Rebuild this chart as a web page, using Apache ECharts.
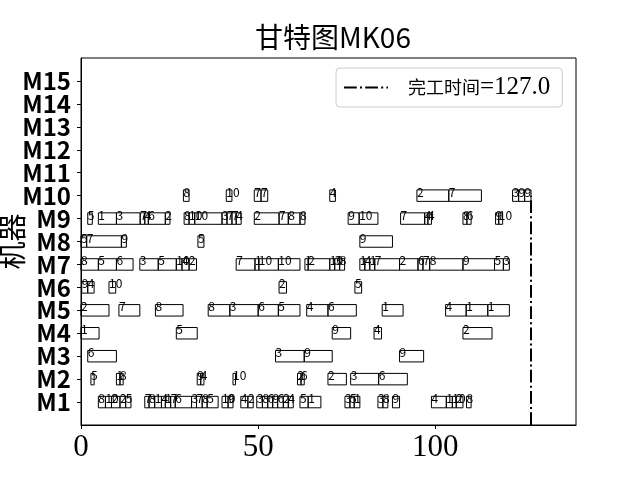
<!DOCTYPE html>
<html><head><meta charset="utf-8">
<script src="https://cdn.jsdelivr.net/npm/echarts@6/dist/echarts.min.js"></script>
<style>html,body{margin:0;padding:0;background:#fff}#c{width:640px;height:480px}</style>
</head><body><div id="c"></div>
<script>
// Operations per machine: [start, end, job]
const M1 = [[4.9,6.9,8],[6.9,8.6,10],[8.6,11.0,2],[11.0,12.6,2],[12.6,14.1,5],
  [18.0,19.2,7],[19.2,20.8,8],[20.8,22.7,1],[22.7,23.8,4],[23.8,25.3,1],[25.3,26.6,7],[26.6,31.2,6],[31.2,32.6,3],[32.6,34.2,7],[34.2,35.6,8],[35.6,38.7,5],
  [39.8,41.5,10],[41.5,42.9,9],[45.1,47.1,4],[47.1,48.6,2],
  [49.6,51.2,3],[51.2,52.7,8],[52.7,54.1,6],[54.1,55.5,9],[55.5,57.1,6],[57.1,58.5,2],[58.5,59.9,4],[61.8,64.1,5],[64.1,67.7,1],
  [74.5,75.9,3],[75.9,77.1,5],[77.1,78.7,1],[83.8,85.2,3],[85.2,86.6,8],[87.9,89.9,9],
  [98.9,103.1,4],[103.1,104.8,1],[104.8,105.9,10],[105.9,107.8,2],[108.8,110.1,8]];
const M2 = [[2.8,3.7,5],[10.0,11.0,1],[11.0,11.9,8],[32.8,33.8,9],[33.8,34.7,4],[42.9,43.6,10],
  [61.1,62.1,2],[62.1,63.0,6],[69.7,74.9,2],[76.1,84.0,3],[84.0,92.1,6]];
const M3 = [[1.9,10.0,6],[54.9,63.0,3],[63.0,70.9,9],[89.9,96.7,9]];
const M4 = [[0,5.1,1],[26.9,32.8,5],[70.9,76.1,9],[82.7,84.8,4],[107.8,116.0,2]];
const M5 = [[0,7.9,2],[10.7,16.6,7],[21.0,28.8,8],[35.9,42.0,8],[42.0,50.0,3],[50.0,55.7,6],[55.7,61.8,5],
  [63.7,69.7,4],[69.7,77.7,6],[85.0,90.9,1],[102.9,108.7,4],[108.7,114.8,1],[114.8,120.9,1]];
const M6 = [[0.2,1.9,9],[1.9,3.7,4],[7.9,9.8,10],[55.9,58.0,2],[77.3,79.2,5]];
const M7 = [[0,4.9,8],[4.9,10.0,5],[10.0,14.7,6],[16.6,21.8,3],[21.8,26.9,5],[26.9,28.5,10],[28.5,30.5,4],[30.5,32.6,2],
  [43.8,49.1,7],[49.1,50.2,1],[50.2,55.7,10],[55.7,61.8,10],[63.2,64.1,1],[64.1,70.2,2],[70.2,71.6,10],[71.6,73.0,3],[73.0,74.4,8],
  [78.7,80.1,1],[80.1,81.5,4],[81.5,82.9,1],[82.9,89.9,7],[89.9,95.1,2],[95.1,96.5,6],[96.5,98.4,7],[98.4,107.8,8],
  [107.8,116.7,9],[116.7,119.2,5],[119.2,120.9,3]];
const M8 = [[0,1.6,5],[1.6,11.4,7],[11.4,12.8,9],[33.0,34.7,5],[78.7,87.9,9]];
const M9 = [[1.9,3.2,5],[4.9,10.0,1],[10.0,16.7,3],[16.7,18.0,7],[18.0,19.0,4],[19.0,23.8,6],[23.8,25.1,2],
  [29.1,30.5,8],[30.5,32.1,10],[32.1,39.8,10],[39.8,41.2,3],[41.2,42.6,7],[42.6,43.8,7],[43.8,45.2,4],
  [48.9,55.9,2],[55.9,58.5,7],[58.5,61.8,8],[61.8,63.2,8],[75.4,78.5,9],[78.5,83.8,10],
  [90.2,97.0,7],[97.0,97.9,4],[97.9,98.9,4],[107.8,108.9,8],[108.9,110.1,6],[117.0,117.9,9],[117.9,119.0,10]];
const M10 = [[28.9,30.5,8],[41.0,42.6,10],[48.9,50.8,7],[50.8,52.7,7],[70.2,71.8,4],
  [94.8,103.8,2],[103.8,113.0,7],[121.8,123.5,3],[123.5,125.2,9],[125.2,127.0,9]];
const machineRows = [M1,M2,M3,M4,M5,M6,M7,M8,M9,M10];
const machineLabels = ['M1','M2','M3','M4','M5','M6','M7','M8','M9','M10','M11','M12','M13','M14','M15'];
const machineTicks = [1,2,3,4,5,6,7,8,9,10,11,12,13,14,15];
const labelSlots = [0,1,2,3,4,5,6,7,8,9,10,11,12,13,14,15,16];
const xTicks = [0,50,100];
const makespan = 127.0;

const data = [];
machineRows.forEach((row, i) => row.forEach(b => data.push([i + 1, b[0], b[1], b[2]])));

const chart = echarts.init(document.getElementById('c'));
chart.setOption({
  animation: false,
  backgroundColor: '#fff',
  title: {
    text: '甘特图MK06', left: 328, top: 18, textAlign: 'center',
    textStyle: { fontFamily: 'Noto Sans CJK SC', fontSize: 28, fontWeight: 'normal', color: '#000' }
  },
  grid: { left: 81, right: 64, top: 58, bottom: 55, show: true, borderColor: '#000', borderWidth: 1,
          containLabel: false, outerBoundsMode: 'none' },
  xAxis: {
    type: 'value', min: 0, max: 139.7, interval: 50,
    axisLine: { show: true, lineStyle: { color: '#000', width: 1 } },
    axisTick: { show: true, length: 4, customValues: xTicks, lineStyle: { color: '#000' } },
    axisLabel: { customValues: xTicks, hideOverlap: false, fontFamily: 'Liberation Serif', fontSize: 31, color: '#000', margin: 7 },
    splitLine: { show: false }
  },
  yAxis: {
    type: 'value', min: 0, max: 16, interval: 1,
    name: '机器', nameLocation: 'middle', nameGap: 55, nameRotate: 90, nameMoveOverlap: false,
    nameTextStyle: { fontFamily: 'Noto Sans CJK SC', fontSize: 28, color: '#000' },
    axisLine: { show: true, lineStyle: { color: '#000', width: 1 } },
    axisTick: { show: true, length: 4, customValues: machineTicks, lineStyle: { color: '#000' } },
    axisLabel: {
      customValues: labelSlots, margin: 10, hideOverlap: false,
      formatter: v => machineLabels[v - 1] || '',
      fontFamily: 'Noto Sans CJK SC', fontSize: 24, fontWeight: 'bold', lineHeight: 18, color: '#000'
    },
    splitLine: { show: false }
  },
  legend: {
    left: 336, top: 68, data: ['完工时间=127.0'],
    backgroundColor: '#fff', borderColor: '#ccc', borderWidth: 1, borderRadius: 4,
    padding: [7, 12, 7, 7], itemWidth: 44, itemHeight: 14,
    itemStyle: { color: 'rgba(0,0,0,0)', borderWidth: 0 },
    formatter: () => '{a|完工时间}{b|=' + makespan.toFixed(1) + '}',
    textStyle: {
      color: '#000',
      rich: {
        a: { fontFamily: 'Noto Sans CJK SC', fontSize: 18, color: '#000', padding: [0, 0, 0, 15] },
        b: { fontFamily: 'Liberation Serif', fontSize: 25, color: '#000' }
      }
    }
  },
  series: [
    {
      type: 'custom', silent: true,
      encode: { x: [1, 2], y: 0 },
      data: data,
      renderItem: (params, api) => {
        const m = api.value(0), s = api.value(1), e = api.value(2);
        const job = data[params.dataIndex][3];
        const p0 = api.coord([s, m]), p1 = api.coord([e, m]);
        const h = api.size([0, 0.5])[1];
        return {
          type: 'group', children: [
            { type: 'rect', shape: { x: p0[0], y: p0[1] - h / 2, width: p1[0] - p0[0], height: h },
              style: { fill: 'none', stroke: '#000', lineWidth: 1 } },
            { type: 'text', x: p0[0], y: p0[1] + 2.5,
              style: { text: String(job), fill: '#000', font: '12px "Noto Sans CJK SC"', align: 'left', verticalAlign: 'bottom' } }
          ]
        };
      }
    },
    {
      type: 'line', name: '完工时间=127.0', silent: true, symbol: 'none',
      data: [[makespan, 0], [makespan, 10]],
      lineStyle: { color: '#000', width: 2, type: [12.8, 3.2, 2, 3.2] },
      itemStyle: { color: '#000' }
    }
  ]
});
</script></body></html>
